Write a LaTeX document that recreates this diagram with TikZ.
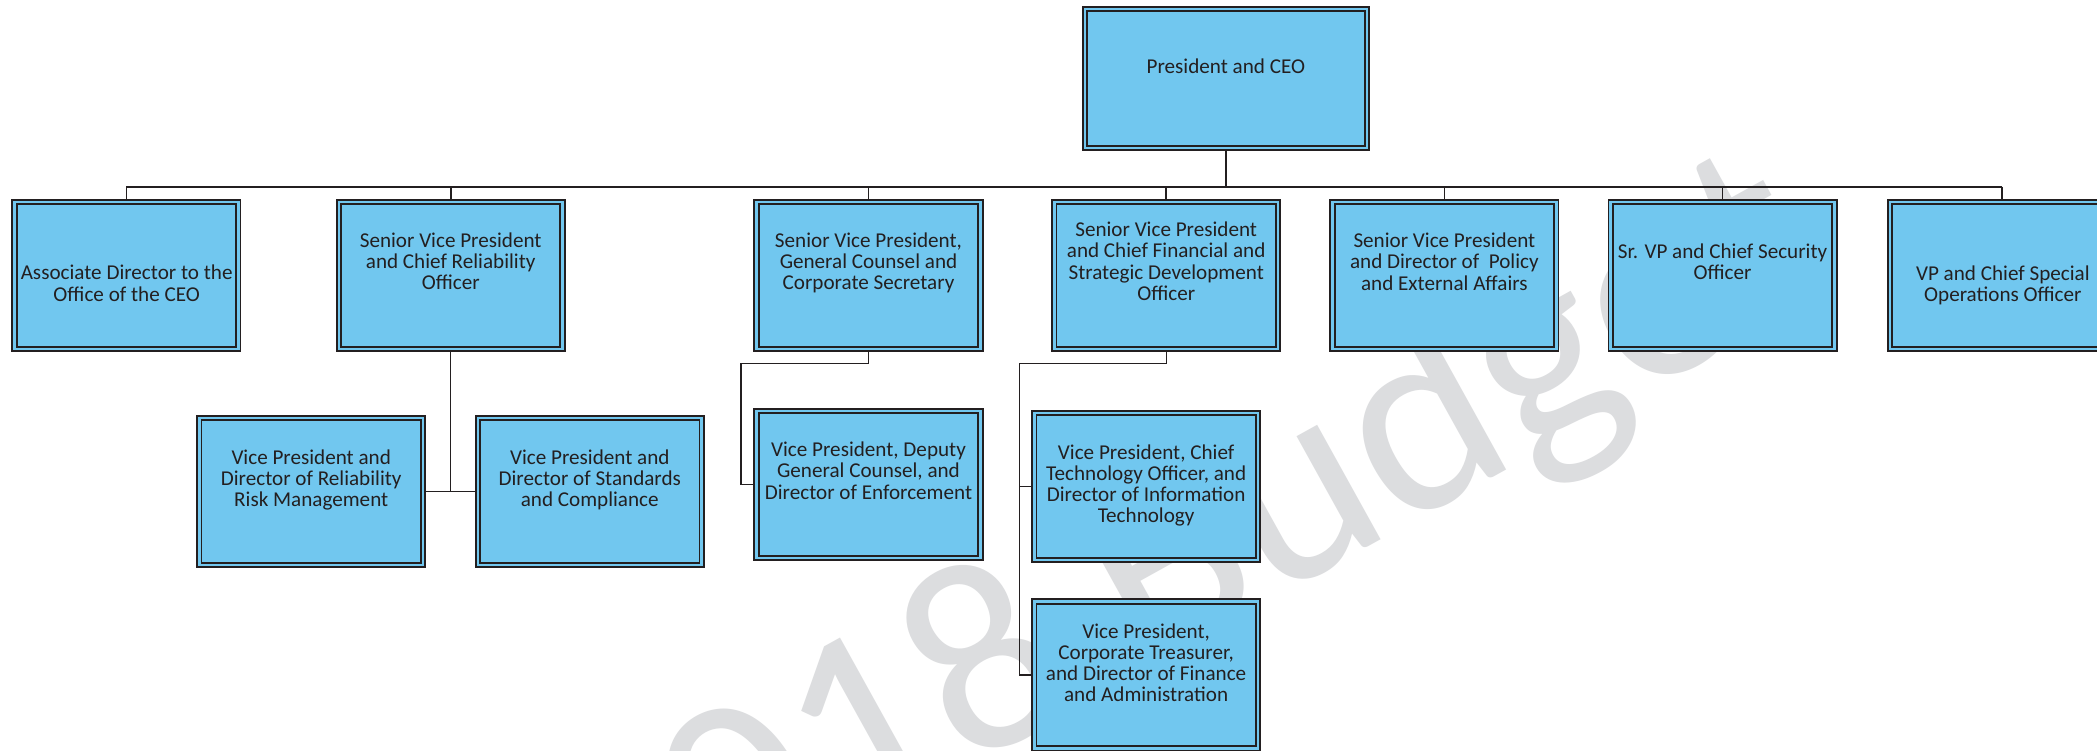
\documentclass[tikz,border=0pt]{standalone}
\usepackage{fontspec}
\setmainfont{Carlito}
\usetikzlibrary{calc}
\definecolor{boxblue}{RGB}{113,199,239}
\definecolor{ink}{RGB}{35,31,32}
\definecolor{wmark}{RGB}{220,221,223}
\begin{document}
\begin{tikzpicture}[x=1pt,y=-1pt,
  orgbox/.style={draw=ink, line width=1.4pt, double=boxblue, double distance=1.9pt,
    fill=boxblue, minimum width=167.3pt, minimum height=109.9pt, inner sep=0pt, outer sep=2.35pt},
  boxtext/.style={align=center, text=ink, font=\fontsize{15.8}{15.8}\selectfont,
    inner sep=0pt, execute at begin node=\strut, execute at end node=\strut},
  link/.style={draw=ink, line width=1.3pt},
  sublink/.style={draw=ink, line width=1pt},
  wm/.style={text=wmark, font=\fontsize{205}{205}\selectfont, rotate=29, inner sep=0pt}
]
\useasboundingbox (0,0) rectangle (1568,561);
\clip (0,0) rectangle (1568,561);
\fill[white] (0,0) rectangle (1568,561);

% watermark
\node[wm] (wmk) at (884,425) {2018 Budget};

% boxes
\node[orgbox, minimum width=210.9pt, minimum height=103.7pt] (ceo) at (916.6,58.7) {};
\node[orgbox] (b1) at (94.5,206.1) {};
\node[orgbox] (b2) at (337,206.1) {};
\node[orgbox] (b3) at (649.4,206.1) {};
\node[orgbox] (b4) at (872,206.1) {};
\node[orgbox] (b5) at (1080,206.1) {};
\node[orgbox] (b6) at (1288,206.1) {};
\node[orgbox] (b7) at (1497,206.1) {};
\node[orgbox] (r1) at (232.7,367.6) {};
\node[orgbox] (r2) at (441,367.6) {};
\node[orgbox] (g1) at (649.4,362.4) {};
\node[orgbox] (f1) at (857,363.9) {};
\node[orgbox] (f2) at (857,504.8) {};

% texts
\node[boxtext] (tceo) at (916.6,51.5) {President and CEO};
\node[boxtext] (tb1) at (94.7,214.1) {Associate Director to the\\Office of the CEO};
\node[boxtext] (tb2) at (337,197.9) {Senior Vice President\\and Chief Reliability\\Officer};
\node[boxtext] (tb3) at (649.4,197.9) {Senior Vice President,\\General Counsel and\\Corporate Secretary};
\node[boxtext] (tb4) at (872,197.7) {Senior Vice President\\and Chief Financial and\\Strategic Development\\Officer};
\node[boxtext] (tb5) at (1080,198) {Senior Vice President\\and Director of\ \ Policy\\and External Affairs};
\node[boxtext] (tb6) at (1288,198) {Sr. VP and Chief Security\\Officer};
\node[boxtext] (tb7) at (1497.6,214.3) {VP and Chief Special\\Operations Officer};
\node[boxtext] (tr1) at (232.7,359.7) {Vice President and\\Director of Reliability\\Risk Management};
\node[boxtext] (tr2) at (441,359.7) {Vice President and\\Director of Standards\\and Compliance};
\node[boxtext] (tg1) at (649.4,354.3) {Vice President, Deputy\\General Counsel, and\\Director of Enforcement};
\node[boxtext] (tf1) at (857,364) {Vice President, Chief\\Technology Officer, and\\Director of Information\\Technology};
\node[boxtext] (tf2) at (857,497.7) {Vice President,\\Corporate Treasurer,\\and Director of Finance\\and Administration};

% connectors
\coordinate (bar) at (916.6,139.6);
\draw[link] (ceo.south) -- (ceo.south |- bar);
\draw[link] (b1.north |- bar) -- (b7.north |- bar);
\foreach \b in {b1,b2,b3,b4,b5,b6,b7}{
  \draw[link] (\b.north |- bar) -- (\b.north);
}
\draw[sublink] (b2.south) -- (b2.south |- r1.east);
\draw[sublink] (r1.east) -- (r2.west);
\coordinate (gk) at (554,272);
\draw[sublink] (b3.south) -- (b3.south |- gk) -- (gk) -- (gk |- g1.west) -- (g1.west);
\coordinate (fk) at (762.5,272);
\draw[sublink] (b4.south) -- (b4.south |- fk) -- (fk) -- (fk |- f2.west) -- (f2.west);
\draw[sublink] (fk |- f1.west) -- (f1.west);
\end{tikzpicture}
\end{document}
